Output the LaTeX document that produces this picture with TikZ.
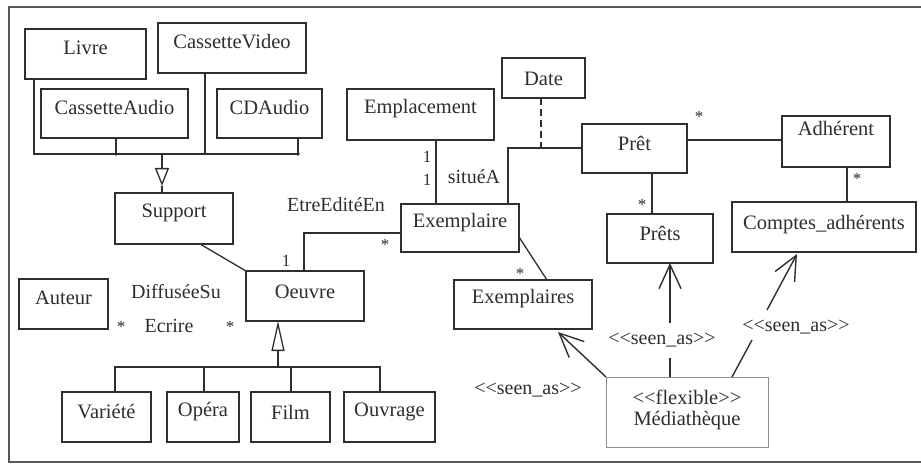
\documentclass[tikz,border=0pt]{standalone}
\usepackage{fontspec}
\setmainfont{Liberation Serif}
\usetikzlibrary{arrows.meta,calc}

\definecolor{ink}{gray}{0.18}
\definecolor{softink}{gray}{0.55}

\tikzset{
  classbox/.style={draw=ink, line width=1.3pt, inner sep=0pt, outer sep=0pt, rectangle},
  flexbox/.style={draw=softink, line width=0.8pt, inner sep=0pt, outer sep=0pt, rectangle},
  classtext/.style={text=ink, inner sep=0pt, font=\fontsize{20.5}{23}\selectfont},
  lbl/.style={text=ink, inner sep=0pt, font=\fontsize{20}{23}\selectfont},
  mult/.style={text=ink, inner sep=0pt, font=\fontsize{17}{19}\selectfont},
  assoc/.style={draw=ink, line width=1.3pt},
  framestyle/.style={draw=ink!80, line width=1.5pt},
  genarrow/.style={draw=ink, line width=1.3pt},
  seenas/.style={draw=ink, line width=1.4pt},
  barb/.style={-{Straight Barb[length=24pt,width=22pt,line width=1.4pt]}},
}

% name, x1, y1, x2, y2, text raise, text
\newcommand\umlclass[7]{%
  \node[classbox, minimum width={(#4-#2)*1pt}, minimum height={(#5-#3)*1pt}]
    (#1) at ({(#2+#4)/2},{(#3+#5)/2}) {};
  \node[classtext] (#1-t) at ([yshift=#6pt]#1.center) {#7};
}

\begin{document}
\begin{tikzpicture}[x=1pt,y=-1pt]
\useasboundingbox (0,0) rectangle (921,465);

% outer frame (open on the right)
\draw[framestyle] (921,7) -- (9,7) -- (9,462) -- (921,462);

% ---------- classes ----------
\umlclass{livre}{25}{29}{146}{79}{6}{Livre}
\umlclass{cvideo}{158}{23}{306}{73}{6}{CassetteVideo}
\umlclass{caudio}{41}{89}{188}{138}{6}{CassetteAudio}
\umlclass{cdaudio}{217}{89}{322}{138}{6}{CDAudio}
\umlclass{support}{115}{193}{233}{244}{6}{Support}
\umlclass{emplacement}{347}{89}{494}{140}{6}{Emplacement}
\umlclass{date}{502}{58}{585}{98}{-1}{Date}
\umlclass{pret}{582}{124}{687}{173}{5}{Prêt}
\umlclass{adherent}{782}{116}{890}{167}{13}{Adhérent}
\umlclass{exemplaire}{401}{204}{519}{252}{5}{Exemplaire}
\umlclass{prets}{607}{214}{713}{263}{5}{Prêts}
\umlclass{comptes}{732}{202}{916}{252}{2}{Comptes\_adhérents}
\umlclass{auteur}{19}{279}{108}{329}{6}{Auteur}
\umlclass{oeuvre}{246}{271}{364}{321}{4}{Oeuvre}
\umlclass{exemplaires}{454}{280}{592}{329}{6}{Exemplaires}
\umlclass{variete}{62}{392}{151}{442}{5}{Variété}
\umlclass{opera}{167}{392}{239}{442}{5}{Opéra}
\umlclass{film}{251}{392}{330}{442}{5}{Film}
\umlclass{ouvrage}{344}{392}{435}{442}{5}{Ouvrage}

\node[flexbox, minimum width=162pt, minimum height=70pt] (media) at (687,412) {};
\node[classtext, align=center] (media-t) at ([yshift=2pt]media.center)
  {<{}<flexible>{}>\\[-2pt]Médiathèque};

% ---------- Support hierarchy ----------
\coordinate (busTL) at (34,154);
\coordinate (busTR) at (299,154);
\coordinate (jA) at (116,154);
\coordinate (jV) at (205,154);
\coordinate (jC) at (298,154);
\coordinate (busTmid) at (162,154);
\coordinate (apexT) at (162,186);
\draw[assoc] (livre.south -| busTL) -- (busTL) -- (busTR);
\draw[assoc] (caudio.south -| jA) -- (jA);
\draw[assoc] (cvideo.south -| jV) -- (jV);
\draw[assoc] (cdaudio.south -| jC) -- (jC);
\fill[ink] (jA) circle (1.8pt) (jC) circle (1.8pt);
\draw[genarrow, -{Triangle[open, length=18pt, width=14pt, line width=1.3pt]}] (busTmid) -- (apexT);
\draw[assoc] (apexT) -- (support.north -| apexT);

% ---------- Oeuvre hierarchy ----------
\coordinate (busBL) at (115,367);
\coordinate (busBR) at (380,367);
\coordinate (busBmid) at (278,367);
\coordinate (jOp) at (204,367);
\coordinate (jFi) at (291,367);
\draw[assoc] (variete.north -| busBL) -- (busBL) -- (busBR) -- (ouvrage.north -| busBR);
\draw[assoc] (jOp) -- (opera.north -| jOp);
\draw[assoc] (jFi) -- (film.north -| jFi);
\draw[genarrow, -{Triangle[open, length=30pt, width=13pt, line width=1.3pt]}] (busBmid) -- (oeuvre.south -| busBmid);

% ---------- associations ----------
\draw[assoc] ($(support.south west)+(85,0)$) -- (oeuvre.north west);

\coordinate (oeX) at (304,233);
\draw[assoc] (oeuvre.north -| oeX) -- (oeX) -- (exemplaire.west |- oeX);

\coordinate (emX) at (436,0);
\draw[assoc] (emplacement.south -| emX) -- (exemplaire.north -| emX);

\coordinate (exX) at (508,148);
\coordinate (dateJ) at (541,148);
\draw[assoc] (exemplaire.north -| exX) -- (exX) -- (pret.west |- exX);
\draw[assoc, dashed, dash pattern=on 7pt off 4pt] (date.south -| dateJ) -- (dateJ);

\draw[assoc] ($(exemplaire.south east)+(0,-15)$) -- ($(exemplaires.north west)+(93,0)$);

\draw[assoc] (pret.east |- 0,140) -- (adherent.west |- 0,140);
\coordinate (prX) at (652,0);
\draw[assoc] (pret.south -| prX) -- (prets.north -| prX);
\coordinate (adX) at (847,0);
\draw[assoc] (adherent.south -| adX) -- (comptes.north -| adX);

% ---------- multiplicities and association names ----------
\node[mult] (m1) at (286,261) {1};
\node[mult] (m2) at (385,245) {*};
\node[mult] (m3) at (427,157) {1};
\node[mult] (m4) at (427,180) {1};
\node[mult] (m5) at (520,274) {*};
\node[mult] (m6) at (699,117) {*};
\node[mult] (m7) at (642,205) {*};
\node[mult] (m8) at (857,179) {*};
\node[mult] (m9) at (121,327) {*};
\node[mult] (m10) at (230,327) {*};

\node[lbl] (n1) at (336,205) {EtreEditéEn};
\node[lbl] (n2) at (474,177) {situéA};
\node[lbl] (n3) at (176,292) {DiffuséeSu};
\node[lbl] (n4) at (169,326) {Ecrire};

% ---------- seen_as dependencies ----------
\node[lbl] (s1) at (662,340) {<{}<seen\_as>{}>};
\node[lbl] (s2) at (796,327) {<{}<seen\_as>{}>};
\node[lbl] (s3) at (528,390) {<{}<seen\_as>{}>};

\draw[seenas, barb] (media.north west) -- ($(exemplaires.south west)+(104,3)$);

\coordinate (mdB) at (670,0);
\draw[seenas] (media.north -| mdB) -- (670,358);
\draw[seenas, barb] (670,323) -- (prets.south -| mdB);

\coordinate (mdC0) at (732,377);
\coordinate (mdC1) at (752,340);
\coordinate (mdC2) at (767,310);
\coordinate (mdC3) at (797,254);
\draw[seenas] (mdC0) -- (mdC1);
\draw[seenas, barb] (mdC2) -- (mdC3);

\end{tikzpicture}
\end{document}
